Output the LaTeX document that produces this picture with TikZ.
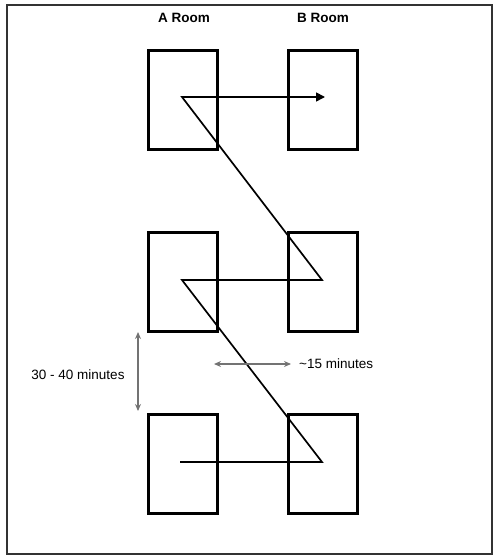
\documentclass[tikz,border=0pt]{standalone}
\usepackage{fontspec}
\setmainfont{Liberation Sans}
\usetikzlibrary{arrows.meta}
\begin{document}
\begin{tikzpicture}[x=1pt,y=-1pt,
  frame/.style={draw=black!80,line width=2pt},
  room/.style={draw=black,line width=3pt,minimum width=69pt,minimum height=99pt,inner sep=0pt,outer sep=0pt},
  route/.style={draw=black,line width=1.7pt},
  span/.style={draw=black!55,line width=1.6pt,{Stealth[length=7pt,width=6pt]}-{Stealth[length=7pt,width=6pt]}},
  title/.style={font=\bfseries\fontsize{13.5}{15}\selectfont,inner sep=0pt},
  lbl/.style={font=\fontsize{13.5}{15}\selectfont,inner sep=0pt}]
\useasboundingbox (0,0) rectangle (493,556);
\draw[frame] (7,5) rectangle (491.5,554);
% titles
\node[title] (ta) at (184,18) {A Room};
\node[title] (tb) at (323,18) {B Room};
% rooms
\node[room] (a1) at (182.5,100) {};
\node[room] (b1) at (322.5,100) {};
\node[room] (a2) at (182.5,282) {};
\node[room] (b2) at (322.5,282) {};
\node[room] (a3) at (182.5,464) {};
\node[room] (b3) at (322.5,464) {};
% route points
\coordinate (pa1) at (182,97);
\coordinate (pb1) at (325,97);
\coordinate (pa2) at (182,280);
\coordinate (pb2) at (322,280);
\coordinate (pa3) at (180,462);
\coordinate (pb3) at (322,462);
\draw[route,-{Triangle[length=9pt,width=9pt]}] (pa3) -- (pb3) -- (pa2) -- (pb2) -- (pa1) -- (pb1);
% spans
\coordinate (vt) at (138,332);
\coordinate (vb) at (138,411);
\draw[span] (vt) -- (vb);
\coordinate (hl) at (214,364);
\coordinate (hr) at (291,364);
\draw[span] (hl) -- (hr);
\node[lbl] (l1) at (78,375) {30 - 40 minutes};
\node[lbl,anchor=west] (l2) at (299,364) {\textasciitilde15 minutes};
\end{tikzpicture}
\end{document}
